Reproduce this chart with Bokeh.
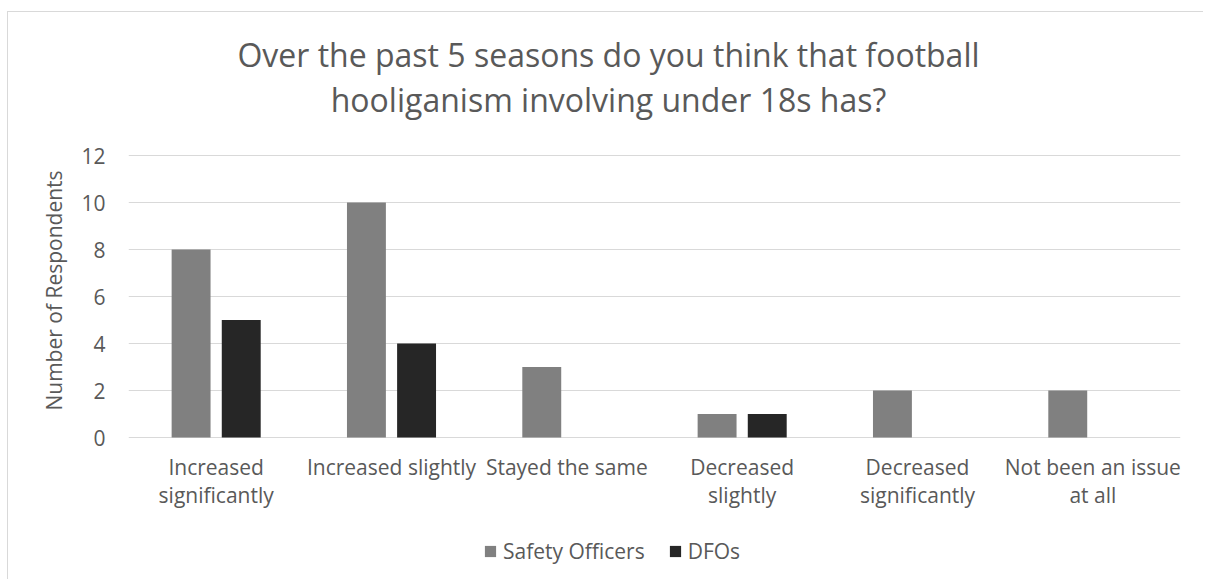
from bokeh.plotting import figure
from bokeh.models import (ColumnDataSource, FactorRange, Range1d, Legend,
                          LegendItem, FixedTicker, Label)
from bokeh.core.properties import value
from bokeh.transform import dodge
from bokeh.embed import file_html
from bokeh.resources import INLINE

categories = ["Increased\nsignificantly", "Increased slightly", "Stayed the same",
              "Decreased\nslightly", "Decreased\nsignificantly", "Not been an issue\nat all"]
safety_officers = [8, 10, 3, 1, 2, 2]
dfos = [5, 4, 0, 1, 0, 0]
series_names = ["Safety Officers", "DFOs"]
y_ticks = [0, 2, 4, 6, 8, 10, 12]
title_lines = ["Over the past 5 seasons do you think that football",
               "hooliganism involving under 18s has?"]
y_label = "Number of Respondents"

FONT = "Open Sans"
TXT = "#595959"
GRID = "#d9d9d9"

src = ColumnDataSource(dict(cat=categories, so=safety_officers, dfo=dfos))

# frame covers the whole chart area so that titles and legend are not clipped
p = figure(x_range=FactorRange(*categories), y_range=Range1d(-5.574, 18.085),
           width=1196, height=568, output_backend="svg", toolbar_location=None,
           min_border_left=120, min_border_right=24, min_border_top=0,
           min_border_bottom=12)
p.styles = {"margin-top": "11px", "margin-left": "7px",
            "border-top": "1px solid #d9d9d9", "border-left": "1px solid #d9d9d9"}
p.outline_line_color = None
p.background_fill_color = "white"
p.border_fill_color = "white"

r1 = p.vbar(x=dodge("cat", -0.143, range=p.x_range), top="so", width=0.222,
            source=src, fill_color="#808080", line_color=None)
r2 = p.vbar(x=dodge("cat", 0.143, range=p.x_range), top="dfo", width=0.222,
            source=src, fill_color="#262626", line_color=None)

p.xgrid.grid_line_color = None
p.ygrid.grid_line_color = GRID
p.ygrid.grid_line_width = 1

p.xaxis.visible = False

p.yaxis.ticker = FixedTicker(ticks=y_ticks)
p.yaxis.axis_line_color = None
p.yaxis.major_tick_line_color = None
p.yaxis.minor_tick_line_color = None
p.yaxis.major_label_text_font = FONT
p.yaxis.major_label_text_font_size = "21px"
p.yaxis.major_label_text_color = TXT
p.yaxis.major_label_standoff = 17
p.yaxis.axis_label = y_label
p.yaxis.axis_label_text_font = FONT
p.yaxis.axis_label_text_font_size = "21px"
p.yaxis.axis_label_text_font_style = "normal"
p.yaxis.axis_label_text_color = TXT
p.yaxis.axis_label_standoff = 10

# category labels under the baseline
p.text(x="cat", y=0, text="cat", source=src, y_offset=15,
       text_align="center", text_baseline="top", text_font=value(FONT),
       text_font_size="21px", text_color=TXT, text_line_height=1.0)

# Title lines (screen units relative to frame bottom-left)
for txt, yy in zip(title_lines, [514, 469]):
    p.add_layout(Label(x=480, y=yy, x_units="screen", y_units="screen", text=txt,
                       text_align="center", text_baseline="alphabetic",
                       text_font=FONT, text_font_size="32px", text_color=TXT))

legend = Legend(items=[LegendItem(label=series_names[0], renderers=[r1]),
                       LegendItem(label=series_names[1], renderers=[r2])],
                location=(355, 3), orientation="horizontal",
                label_text_font=FONT, label_text_font_size="21px",
                label_text_color=TXT, glyph_width=14, glyph_height=14,
                label_standoff=6, spacing=23, padding=0, margin=0,
                border_line_color=None, background_fill_alpha=0)
p.add_layout(legend, "center")

open("out.html", "w").write(file_html(p, INLINE))
